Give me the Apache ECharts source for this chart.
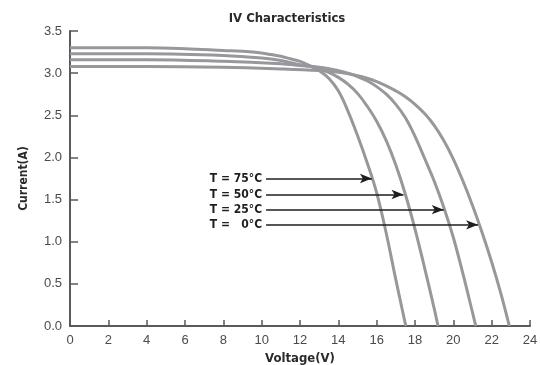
<!DOCTYPE html>
<html>
<head>
<meta charset="utf-8">
<script src="https://cdn.jsdelivr.net/npm/echarts@6/dist/echarts.min.js"></script>
<style>
  html, body { margin: 0; padding: 0; background: #fff; }
  #chart { width: 540px; height: 365px; }
</style>
</head>
<body>
<div id="chart"></div>
<script>
// I-V curves of a PV module at four cell temperatures
const temps = ['75', '50', '25', '0'];

const v75 = [0, 2, 4, 6, 8, 9, 10, 10.5, 11, 11.5, 12, 12.5, 13, 13.5, 14, 14.5, 15, 15.5, 16, 16.5, 17, 17.52];
const i75 = [3.30, 3.30, 3.30, 3.29, 3.27, 3.26, 3.24, 3.22, 3.20, 3.17, 3.14, 3.09, 3.03, 2.94, 2.79, 2.55, 2.26, 1.94, 1.58, 1.10, 0.55, 0];

const v50 = [0, 4, 8, 10, 11, 12, 12.5, 13, 13.5, 14, 14.5, 15, 15.5, 16, 16.5, 17, 17.5, 18, 18.5, 19, 19.2];
const i50 = [3.23, 3.23, 3.21, 3.18, 3.15, 3.10, 3.08, 3.05, 3.01, 2.95, 2.87, 2.76, 2.61, 2.43, 2.20, 1.91, 1.56, 1.15, 0.69, 0.21, 0];

const v25 = [0, 4, 8, 11, 12, 13, 14, 14.5, 15, 15.5, 16, 16.5, 17, 17.5, 18, 18.5, 19, 19.5, 20, 20.5, 21, 21.17];
const i25 = [3.16, 3.16, 3.14, 3.11, 3.09, 3.07, 3.03, 3.00, 2.96, 2.91, 2.84, 2.75, 2.63, 2.47, 2.25, 1.99, 1.72, 1.41, 1.05, 0.62, 0.16, 0];

const v0 = [0, 4, 8, 11, 13, 14, 15, 15.5, 16, 16.5, 17, 17.5, 18, 18.5, 19, 19.5, 20, 20.5, 21, 21.5, 22, 22.5, 22.92];
const i0 = [3.08, 3.08, 3.07, 3.05, 3.03, 3.01, 2.97, 2.94, 2.90, 2.85, 2.79, 2.72, 2.63, 2.52, 2.38, 2.20, 1.98, 1.72, 1.43, 1.11, 0.76, 0.37, 0];

// Arrow annotations: shared start voltage, tip voltage and current per curve
const arrowStartV = 10.23;
const arrowTipV = [15.75, 17.4, 19.5, 21.29];
const arrowI = [1.75, 1.56, 1.38, 1.20];
const arrowText = ['T = 75°C', 'T = 50°C', 'T = 25°C', 'T =   0°C'];

const xTicks = [0, 2, 4, 6, 8, 10, 12, 14, 16, 18, 20, 22, 24];
const yTicks = [0, 0.5, 1.0, 1.5, 2.0, 2.5, 3.0, 3.5];

const curves = [[v75, i75], [v50, i50], [v25, i25], [v0, i0]];

const narrow = "'DejaVu Sans Condensed', 'Liberation Sans Narrow', 'Arial Narrow', sans-serif";
const regular = "'Liberation Sans', Arial, sans-serif";

const series = curves.map((c, k) => ({
  name: temps[k],
  type: 'line',
  smooth: 0.4,
  showSymbol: false,
  silent: true,
  data: c[0].map((v, j) => [v, c[1][j]]),
  lineStyle: { color: '#98989c', width: 3 },
  markLine: {
    silent: true,
    symbol: ['none', 'arrow'],
    symbolSize: [7, 12],
    lineStyle: { color: '#1e1e1e', width: 1.5, type: 'solid' },
    label: {
      show: true,
      position: 'start',
      distance: 4,
      formatter: arrowText[k],
      color: '#1e1e1e',
      fontFamily: narrow,
      fontWeight: 'bold',
      fontSize: 12
    },
    data: [[
      { coord: [arrowStartV, arrowI[k]] },
      { coord: [arrowTipV[k], arrowI[k]] }
    ]]
  }
}));

const chart = echarts.init(document.getElementById('chart'), null, { renderer: 'canvas' });
chart.setOption({
  animation: false,
  backgroundColor: '#fff',
  title: {
    text: 'IV Characteristics',
    left: 282,
    top: 7,
    textAlign: 'center',
    textStyle: { fontFamily: narrow, fontWeight: 'bold', fontSize: 13, color: '#2a2a2a' }
  },
  grid: { left: 70, right: 10, top: 31, bottom: 39, containLabel: false, outerBoundsMode: 'none' },
  xAxis: {
    type: 'value',
    min: xTicks[0],
    max: xTicks[xTicks.length - 1],
    interval: 2,
    name: 'Voltage(V)',
    nameLocation: 'middle',
    nameGap: 25,
    nameTextStyle: { fontFamily: narrow, fontWeight: 'bold', fontSize: 13, color: '#2a2a2a' },
    axisLine: { lineStyle: { color: '#5a5a5a', width: 2 } },
    axisTick: { inside: true, length: 6, lineStyle: { color: '#5a5a5a', width: 1.5 } },
    axisLabel: { fontFamily: regular, fontSize: 13, color: '#4a4a4a', margin: 8 },
    splitLine: { show: false }
  },
  yAxis: {
    type: 'value',
    min: yTicks[0],
    max: yTicks[yTicks.length - 1],
    interval: 0.5,
    name: 'Current(A)',
    nameLocation: 'middle',
    nameGap: 40,
    nameRotate: 90,
    nameTextStyle: { fontFamily: narrow, fontWeight: 'bold', fontSize: 12, color: '#2a2a2a' },
    axisLine: { show: true, lineStyle: { color: '#5a5a5a', width: 2 } },
    axisTick: { show: true, inside: true, length: 8, lineStyle: { color: '#5a5a5a', width: 1.5 } },
    axisLabel: { fontFamily: regular, fontSize: 13, color: '#4a4a4a', margin: 8, formatter: v => v.toFixed(1) },
    splitLine: { show: false }
  },
  series: series
});
</script>
</body>
</html>
